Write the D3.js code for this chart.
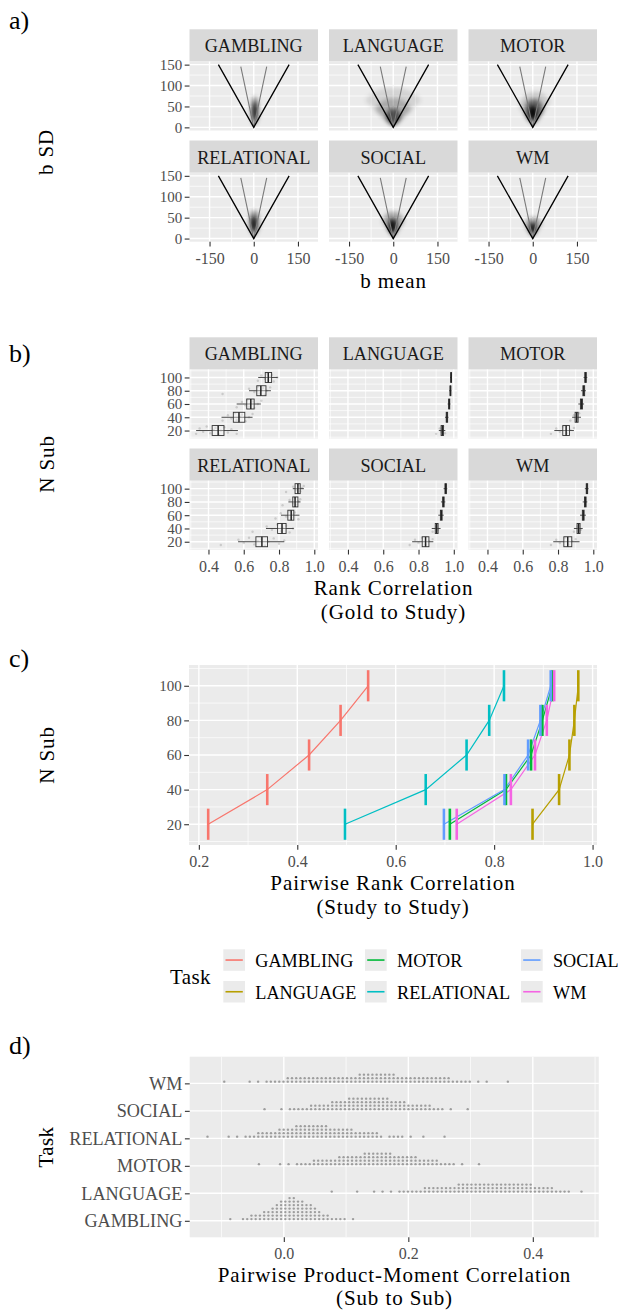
<!DOCTYPE html>
<html>
<head>
<meta charset="utf-8">
<script src="https://cdn.jsdelivr.net/npm/d3@7"></script>
<style>
  body { margin: 0; background: #fff; }
  svg text { font-family: "Liberation Serif", "DejaVu Serif", serif; }
</style>
</head>
<body>
<svg id="fig" width="618" height="1310"></svg>
<script>
const tasks = ['GAMBLING', 'LANGUAGE', 'MOTOR', 'RELATIONAL', 'SOCIAL', 'WM'];
const taskColors = ['#F8766D', '#B79F00', '#00BA38', '#00BFC4', '#619CFF', '#F564E3'];
const nSub = [20, 40, 60, 80, 100];

// a) density blobs, [b mean, b SD, rx, ry, opacity], outer layer first
const blobGambling   = [[4, 40, 14, 34, 0.4], [3, 38, 7, 24, 0.9], [2, 34, 4, 14, 1]];
const blobLanguage   = [[0, 50, 100, 45, 0.1], [0, 38, 60, 32, 0.2], [0, 25, 25, 20, 0.55]];
const blobMotor      = [[8, 45, 55, 40, 0.15], [4, 40, 32, 28, 0.5], [0, 35, 14, 17, 0.95]];
const blobRelational = [[2, 38, 18, 30, 0.4], [0, 35, 9, 19, 0.9], [0, 32, 5, 10, 1]];
const blobSocial     = [[0, 35, 38, 30, 0.3], [-2, 30, 15, 18, 0.9]];
const blobWm         = [[2, 30, 30, 22, 0.3], [0, 25, 12, 14, 0.9]];
const coneBlack = [[-120, 150], [0, 0], [120, 150]];
const coneGray  = [[-44, 145], [0, 0], [44, 145]];

// b) boxplots [lower whisker, q1, median, q3, upper whisker] for each N
const boxGambling   = [[0.33, 0.421, 0.455, 0.488, 0.567], [0.474, 0.541, 0.573, 0.606, 0.65], [0.56, 0.617, 0.64, 0.659, 0.697], [0.63, 0.674, 0.697, 0.726, 0.754], [0.682, 0.722, 0.739, 0.758, 0.793]];
const boxLanguage   = [[0.915, 0.928, 0.935, 0.942, 0.952], [0.95, 0.957, 0.961, 0.965, 0.97], [0.965, 0.971, 0.974, 0.977, 0.981], [0.974, 0.979, 0.981, 0.983, 0.986], [0.979, 0.983, 0.985, 0.987, 0.99]];
const boxMotor      = [[0.779, 0.827, 0.846, 0.865, 0.89], [0.88, 0.897, 0.906, 0.914, 0.93], [0.915, 0.927, 0.933, 0.939, 0.948], [0.93, 0.941, 0.946, 0.951, 0.958], [0.945, 0.952, 0.956, 0.96, 0.966]];
const boxRelational = [[0.568, 0.669, 0.703, 0.735, 0.83], [0.726, 0.792, 0.817, 0.84, 0.884], [0.811, 0.85, 0.869, 0.884, 0.916], [0.853, 0.878, 0.891, 0.907, 0.922], [0.878, 0.891, 0.907, 0.92, 0.941]];
const boxSocial     = [[0.764, 0.821, 0.84, 0.859, 0.884], [0.875, 0.895, 0.903, 0.911, 0.925], [0.912, 0.924, 0.929, 0.934, 0.943], [0.927, 0.937, 0.941, 0.945, 0.952], [0.942, 0.95, 0.954, 0.958, 0.963]];
const boxWm         = [[0.773, 0.833, 0.855, 0.878, 0.922], [0.89, 0.908, 0.917, 0.925, 0.94], [0.925, 0.938, 0.943, 0.948, 0.958], [0.94, 0.95, 0.955, 0.959, 0.966], [0.952, 0.96, 0.964, 0.968, 0.973]];

// b) faint study points behind the boxes, one list per N
const jitterDy = [-5, 3, -2, 6, -4, 1, 4, -6, 0, 5, -3, 2];
const ptsGambling   = [[0.33, 0.35, 0.37, 0.39, 0.41, 0.43, 0.44, 0.46, 0.47, 0.49, 0.51, 0.53, 0.56], [0.48, 0.51, 0.53, 0.55, 0.56, 0.58, 0.59, 0.61, 0.63, 0.65], [0.56, 0.59, 0.61, 0.62, 0.63, 0.64, 0.65, 0.66, 0.68, 0.7], [0.48, 0.63, 0.66, 0.68, 0.69, 0.7, 0.71, 0.72, 0.73, 0.75], [0.68, 0.7, 0.72, 0.73, 0.74, 0.75, 0.76, 0.77, 0.79]];
const ptsLanguage   = [[0.9, 0.92, 0.93, 0.94, 0.95], [], [], [], []];
const ptsMotor      = [[0.76, 0.79, 0.81, 0.83, 0.85, 0.87, 0.89], [0.87, 0.89, 0.91, 0.92], [], [], []];
const ptsRelational = [[0.47, 0.57, 0.6, 0.63, 0.66, 0.68, 0.7, 0.72, 0.74, 0.77, 0.8, 0.83], [0.65, 0.73, 0.76, 0.79, 0.81, 0.82, 0.84, 0.86, 0.88], [0.78, 0.81, 0.84, 0.86, 0.87, 0.88, 0.89, 0.91], [0.82, 0.86, 0.88, 0.89, 0.9, 0.91, 0.92], [0.84, 0.88, 0.9, 0.91, 0.92, 0.93, 0.94]];
const ptsSocial     = [[0.75, 0.78, 0.8, 0.82, 0.84, 0.86, 0.88], [0.88, 0.9, 0.91], [], [], []];
const ptsWm         = [[0.76, 0.79, 0.81, 0.84, 0.86, 0.88, 0.9], [0.89, 0.91, 0.93], [], [], []];

// c) pairwise rank correlation (study to study) for each N
const pairGambling   = [0.219, 0.339, 0.424, 0.488, 0.544];
const pairLanguage   = [0.878, 0.932, 0.953, 0.963, 0.971];
const pairMotor      = [0.71, 0.824, 0.875, 0.898, 0.918];
const pairRelational = [0.497, 0.661, 0.744, 0.79, 0.82];
const pairSocial     = [0.698, 0.821, 0.869, 0.894, 0.915];
const pairWm         = [0.724, 0.834, 0.883, 0.907, 0.922];

// d) dot plot: count of stacked dots per bin, bins of width dotBin from dotStart
const dotBin = 0.0068;
const dotStart = [-0.086, 0.077, -0.040, -0.1226, -0.031, -0.0957];
const dotGambling   = '100112223345667766554322111101';
const dotLanguage   = '100000100010101011111122222222333333333333333333222221111001';
const dotMotor      = '10000101011112222223333334444444333333222221111010001';
const dotRelational = '100001010111222223333444444443333332222221011110100100001';
const dotSocial     = '1000101111122222333344444444443333222222111010001';
const dotWm         = '10000010101111122222222222222222333333333222222222222211111010100001';

const FONT = 'Liberation Serif';
const CAPS = 18.2;   // size of the upper-case labels (strips, legend, task axis)
const svg = d3.select('#fig');
svg.append('rect').attr('width', 618).attr('height', 1310).attr('fill', '#fff');
const defs = svg.append('defs');
defs.append('filter').attr('id', 'blurA')
    .attr('x', '-50%').attr('y', '-50%').attr('width', '200%').attr('height', '200%')
  .append('feGaussianBlur').attr('stdDeviation', 2.2);

function text(x, y, s, size, opts = {}) {
  const t = svg.append('text')
      .attr('x', x).attr('y', y)
      .style('font-family', FONT).attr('font-size', size)
      .attr('fill', opts.fill || '#000')
      .attr('text-anchor', opts.anchor || 'middle')
      .attr('dominant-baseline', opts.baseline || 'central')
      .attr('letter-spacing', opts.ls || 0)
      .text(s);
  if (opts.rotate) t.attr('transform', `rotate(-90,${x},${y})`);
  return t;
}

function makePanel(x0, y0, w, h, xs, ys, grid) {
  const g = svg.append('g').attr('transform', `translate(${x0},${y0})`);
  g.append('rect').attr('width', w).attr('height', h).attr('fill', '#EBEBEB');
  const gl = (vals, vertical, sw) => g.append('g').selectAll('line').data(vals).join('line')
      .attr('x1', d => vertical ? xs(d) : 0).attr('x2', d => vertical ? xs(d) : w)
      .attr('y1', d => vertical ? 0 : ys(d)).attr('y2', d => vertical ? h : ys(d))
      .attr('stroke', '#fff').attr('stroke-width', sw);
  gl(grid.yMin || [], false, 0.7);
  gl(grid.xMin || [], true, 0.7);
  gl(grid.yMaj, false, 1.4);
  gl(grid.xMaj, true, 1.4);
  return g;
}

function strip(x0, y0, w, h, s) {
  svg.append('rect').attr('x', x0).attr('y', y0).attr('width', w).attr('height', h).attr('fill', '#D9D9D9');
  text(x0 + w / 2, y0 + h / 2 + 1, s, CAPS, { fill: '#1A1A1A' });
}

function styleAxis(g, size) {
  g.attr('font-family', null).attr('font-size', size);
  g.select('.domain').remove();
  g.selectAll('.tick line').attr('stroke', '#333333').attr('stroke-width', 1.1);
  g.selectAll('.tick text').attr('fill', '#4D4D4D').style('font-family', FONT);
}

function axisLeftAt(x0, y0, ys, vals, fmt, size = 15) {
  const g = svg.append('g').attr('transform', `translate(${x0},${y0})`)
      .call(d3.axisLeft(ys).tickValues(vals).tickFormat(fmt).tickSize(4.8).tickPadding(2.5));
  styleAxis(g, size);
}

function axisBottomAt(x0, y0, xs, vals, fmt) {
  const g = svg.append('g').attr('transform', `translate(${x0},${y0})`)
      .call(d3.axisBottom(xs).tickValues(vals).tickFormat(fmt).tickSize(4.8));
  styleAxis(g, 16);
  g.selectAll('.tick text').attr('y', 16.5).attr('dy', '0.35em');
}

const colX = [189.5, 329, 468.5], colW = 128.5;
const stripH = 32.2, panH = 69, rowGap = 10;
const f1 = d3.format('.1f');
const TITLE = 21, TITLE_LS = 0.9;

// ---------- a) ----------
text(9, 29, 'a)', 26, { anchor: 'start', baseline: 'auto' });
const aTop = 29.3;
const xA = d3.scaleLinear().domain([-218, 218]).range([0, colW]);
const yA = d3.scaleLinear().domain([-7.5, 157.5]).range([panH, 0]);
const blobsA = [blobGambling, blobLanguage, blobMotor, blobRelational, blobSocial, blobWm];
const clipSlopeA = [0.8, 1.5, 0.95, 0.8, 0.9, 0.9];
const lineA = d3.line().x(d => xA(d[0])).y(d => yA(d[1]));

tasks.forEach((t, i) => {
  const col = i % 3, row = Math.floor(i / 3);
  const x0 = colX[col], top = aTop + row * (stripH + panH + rowGap);
  strip(x0, top, colW, stripH, t);
  const g = makePanel(x0, top + stripH, colW, panH, xA, yA,
      { xMaj: [-150, 0, 150], xMin: [-75, 75], yMaj: [0, 50, 100, 150], yMin: [25, 75, 125] });
  const s = clipSlopeA[i];
  g.append('clipPath').attr('id', 'coneA' + i)
    .append('path').attr('d', lineA([[-s * 157.5, 157.5], [0, 0], [s * 157.5, 157.5]]) + 'Z');
  const kx = xA(1) - xA(0), ky = yA(0) - yA(1);
  // blur after clipping so the cone edges stay soft
  g.append('g').attr('filter', 'url(#blurA)')
    .append('g').attr('clip-path', `url(#coneA${i})`)
    .selectAll('ellipse').data(blobsA[i]).join('ellipse')
      .attr('cx', d => xA(d[0])).attr('cy', d => yA(d[1]))
      .attr('rx', d => d[2] * kx).attr('ry', d => d[3] * ky)
      .attr('fill', '#000').attr('fill-opacity', d => d[4]);
  g.append('path').attr('d', lineA(coneGray)).attr('fill', 'none').attr('stroke', '#7a7a7a').attr('stroke-width', 1.1);
  g.append('path').attr('d', lineA(coneBlack)).attr('fill', 'none').attr('stroke', '#000').attr('stroke-width', 1.3);
  if (col === 0) axisLeftAt(x0, top + stripH, yA, [0, 50, 100, 150], d => String(d));
  if (row === 1) axisBottomAt(x0, top + stripH + panH, xA, [-150, 0, 150], d => String(d));
});
text(46, 152, 'b  SD', TITLE, { rotate: true, ls: TITLE_LS });
text(393.5, 281, 'b  mean', TITLE, { ls: TITLE_LS });

// ---------- b) ----------
text(9, 362, 'b)', 26, { anchor: 'start', baseline: 'auto' });
const bTop = 337.3;
const xB = d3.scaleLinear().domain([0.2925, 1.021]).range([0, colW]);
const yB = d3.scaleLinear().domain([8, 112]).range([panH, 0]);
const boxesB = [boxGambling, boxLanguage, boxMotor, boxRelational, boxSocial, boxWm];
const ptsB = [ptsGambling, ptsLanguage, ptsMotor, ptsRelational, ptsSocial, ptsWm];
const boxHalf = 7.5;

tasks.forEach((t, i) => {
  const col = i % 3, row = Math.floor(i / 3);
  const x0 = colX[col], top = bTop + row * (stripH + panH + rowGap);
  strip(x0, top, colW, stripH, t);
  const g = makePanel(x0, top + stripH, colW, panH, xB, yB,
      { xMaj: [0.4, 0.6, 0.8, 1.0], xMin: [0.3, 0.5, 0.7, 0.9], yMaj: nSub, yMin: [10, 30, 50, 70, 90, 110] });
  const pts = [];
  ptsB[i].forEach((vals, j) => vals.forEach((v, k) => pts.push([v, nSub[j] + jitterDy[k % jitterDy.length]])));
  g.append('g').selectAll('circle').data(pts).join('circle')
      .attr('cx', d => xB(d[0])).attr('cy', d => yB(d[1])).attr('r', 1.2)
      .attr('fill', '#444').attr('fill-opacity', 0.2);
  const bx = g.append('g').selectAll('g').data(boxesB[i]).join('g');
  bx.append('line')
      .attr('x1', d => xB(d[0])).attr('x2', d => xB(d[4]))
      .attr('y1', (d, j) => yB(nSub[j])).attr('y2', (d, j) => yB(nSub[j]))
      .attr('stroke', '#333').attr('stroke-width', 0.9);
  bx.append('rect')
      .attr('x', d => xB(d[1])).attr('width', d => xB(d[3]) - xB(d[1]))
      .attr('y', (d, j) => yB(nSub[j] + boxHalf)).attr('height', yB(0) - yB(2 * boxHalf))
      .attr('fill', '#fff').attr('fill-opacity', 0.35)
      .attr('stroke', '#333').attr('stroke-width', 0.9);
  bx.append('line')
      .attr('x1', d => xB(d[2])).attr('x2', d => xB(d[2]))
      .attr('y1', (d, j) => yB(nSub[j] + boxHalf)).attr('y2', (d, j) => yB(nSub[j] - boxHalf))
      .attr('stroke', '#222').attr('stroke-width', 1.5);
  if (col === 0) axisLeftAt(x0, top + stripH, yB, nSub, d => String(d));
  if (row === 1) axisBottomAt(x0, top + stripH + panH, xB, [0.4, 0.6, 0.8, 1.0], f1);
});
text(47, 464, 'N Sub', TITLE, { rotate: true, ls: TITLE_LS });
text(393.5, 588, 'Rank Correlation', TITLE, { ls: TITLE_LS });
text(393.5, 612, '(Gold to Study)', TITLE, { ls: TITLE_LS });

// ---------- c) ----------
text(9, 667, 'c)', 26, { anchor: 'start', baseline: 'auto' });
const cX0 = 189, cY0 = 665, cW = 408, cH = 180;
const xC = d3.scaleLinear().domain([0.18, 1.009]).range([0, cW]);
const yC = d3.scaleLinear().domain([8, 112]).range([cH, 0]);
const pairsC = [pairGambling, pairLanguage, pairMotor, pairRelational, pairSocial, pairWm];
const gC = makePanel(cX0, cY0, cW, cH, xC, yC,
    { xMaj: [0.2, 0.4, 0.6, 0.8, 1.0], xMin: [0.3, 0.5, 0.7, 0.9], yMaj: nSub, yMin: [10, 30, 50, 70, 90, 110] });
const lineC = d3.line().x(d => xC(d)).y((d, j) => yC(nSub[j]));
gC.append('g').selectAll('path').data(pairsC).join('path')
    .attr('d', d => lineC(d)).attr('fill', 'none')
    .attr('stroke', (d, i) => taskColors[i]).attr('stroke-width', 1.2);
pairsC.forEach((vals, i) => {
  gC.append('g').selectAll('line').data(vals).join('line')
      .attr('x1', d => xC(d)).attr('x2', d => xC(d))
      .attr('y1', (d, j) => yC(nSub[j] - 9)).attr('y2', (d, j) => yC(nSub[j] + 9))
      .attr('stroke', taskColors[i]).attr('stroke-width', 2.6);
});
axisLeftAt(cX0, cY0, yC, nSub, d => String(d));
axisBottomAt(cX0, cY0 + cH, xC, [0.2, 0.4, 0.6, 0.8, 1.0], f1);
text(47, 755, 'N Sub', TITLE, { rotate: true, ls: TITLE_LS });
text(393, 883, 'Pairwise Rank Correlation', TITLE, { ls: TITLE_LS });
text(393, 907, '(Study to Study)', TITLE, { ls: TITLE_LS });

// legend
const legColX = [223.3, 365, 521], legRowY = [949.3, 981];
text(170, 976.7, 'Task', TITLE, { anchor: 'start', ls: 0.4 });
tasks.forEach((t, i) => {
  const lx = legColX[Math.floor(i / 2)], ly = legRowY[i % 2];
  svg.append('rect').attr('x', lx).attr('y', ly).attr('width', 21.7).attr('height', 21.5).attr('fill', '#EBEBEB');
  svg.append('line').attr('x1', lx + 2.2).attr('x2', lx + 19.5).attr('y1', ly + 10.75).attr('y2', ly + 10.75)
      .attr('stroke', taskColors[i]).attr('stroke-width', 1.6);
  text(lx + 32, ly + 11.5, t, CAPS, { anchor: 'start' });
});

// ---------- d) ----------
text(9, 1054, 'd)', 26, { anchor: 'start', baseline: 'auto' });
const dX0 = 189.7, dY0 = 1056.7, dW = 409.1, dH = 180.6;
const xD = d3.scaleLinear().domain([-0.1512, 0.506]).range([0, dW]);
const yD = d3.scaleLinear().domain([0.4, 6.97]).range([dH, 0]);
const dotsD = [dotGambling, dotLanguage, dotMotor, dotRelational, dotSocial, dotWm];
const gD = makePanel(dX0, dY0, dW, dH, xD, yD,
    { xMaj: [0, 0.2, 0.4], xMin: [-0.1, 0.1, 0.3, 0.5], yMaj: [1, 2, 3, 4, 5, 6] });
const dots = [];
dotsD.forEach((str, t) => {
  str.split('').map(Number).forEach((c, b) => {
    for (let k = 0; k < c; k++) dots.push({ v: dotStart[t] + b * dotBin, cat: t + 1, k });
  });
});
gD.append('g').selectAll('circle').data(dots).join('circle')
    .attr('cx', d => xD(d.v)).attr('cy', d => yD(d.cat) - 1.7 - d.k * 3.5)
    .attr('r', 1.2).attr('fill', '#9d9d9d');
axisLeftAt(dX0, dY0, yD, [1, 2, 3, 4, 5, 6], d => tasks[d - 1], CAPS);
axisBottomAt(dX0, dY0 + dH, xD, [0, 0.2, 0.4], f1);
text(46, 1147, 'Task', TITLE, { rotate: true, ls: 0.4 });
text(394.5, 1275, 'Pairwise Product-Moment Correlation', TITLE, { ls: TITLE_LS });
text(394.5, 1298, '(Sub to Sub)', TITLE, { ls: TITLE_LS });
</script>
</body>
</html>
